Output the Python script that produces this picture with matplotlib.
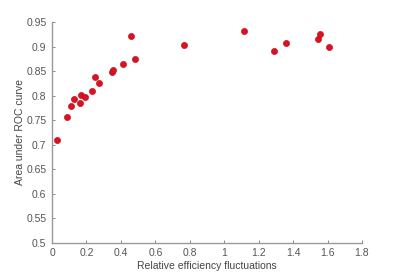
import matplotlib
matplotlib.use("Agg")
import matplotlib.pyplot as plt

rel_eff_fluct = [0.031, 0.085, 0.112, 0.126, 0.163, 0.167, 0.194, 0.231, 0.250, 0.275,
                 0.349, 0.353, 0.413, 0.461, 0.483, 0.766, 1.112, 1.291, 1.357, 1.543,
                 1.556, 1.607]
auc = [0.709, 0.756, 0.779, 0.793, 0.785, 0.802, 0.797, 0.809, 0.837, 0.826,
       0.848, 0.853, 0.864, 0.922, 0.875, 0.903, 0.931, 0.891, 0.908, 0.915,
       0.925, 0.900]
x_ticks = [0, 0.2, 0.4, 0.6, 0.8, 1, 1.2, 1.4, 1.6, 1.8]
x_labels = ["0", "0.2", "0.4", "0.6", "0.8", "1", "1.2", "1.4", "1.6", "1.8"]
y_ticks = [0.5, 0.55, 0.6, 0.65, 0.7, 0.75, 0.8, 0.85, 0.9, 0.95]
y_labels = ["0.5", "0.55", "0.6", "0.65", "0.7", "0.75", "0.8", "0.85", "0.9", "0.95"]

plt.rcParams['font.family'] = ['Liberation Sans', 'DejaVu Sans']

fig = plt.figure(figsize=(4.0, 2.74), dpi=100)
ax = fig.add_axes([0.13, 0.1142, 0.775, 0.8055])
ax.scatter(rel_eff_fluct, auc, s=20, color='#dd1020', edgecolors='#b01020', linewidths=0.4, zorder=3)
ax.set_xlim(0, 1.8)
ax.set_ylim(0.5, 0.95)
ax.set_xticks(x_ticks)
ax.set_xticklabels(x_labels)
ax.set_yticks(y_ticks)
ax.set_yticklabels(y_labels)
for s in ['top', 'right']:
    ax.spines[s].set_visible(False)
for s in ['left', 'bottom']:
    ax.spines[s].set_color('#999999')
    ax.spines[s].set_linewidth(1.0)
ax.tick_params(direction='in', length=2.5, width=0.6, color='#777777',
               labelsize=7.5, labelcolor='#555555', pad=4)
ax.set_xlabel('Relative efficiency fluctuations', fontsize=7.5, color='#444444', labelpad=2)
ax.set_ylabel('Area under ROC curve', fontsize=7.5, color='#444444', labelpad=1)
fig.savefig('out.png', dpi=100)
